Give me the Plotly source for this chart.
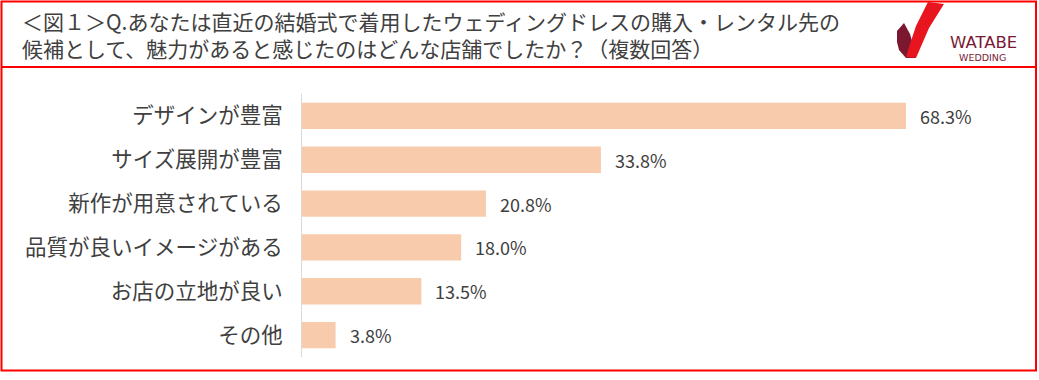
import plotly.graph_objects as go

categories = ["デザインが豊富", "サイズ展開が豊富", "新作が用意されている",
              "品質が良いイメージがある", "お店の立地が良い", "その他"]
values = [68.3, 33.8, 20.8, 18.0, 13.5, 3.8]
value_labels = ["68.3%", "33.8%", "20.8%", "18.0%", "13.5%", "3.8%"]

title_line1 = "＜図１＞Q.あなたは直近の結婚式で着用したウェディングドレスの購入・レンタル先の"
title_line2 = "候補として、魅力があると感じたのはどんな店舗でしたか？（複数回答）"

W, H = 1039, 380
L, R, T, B = 302, 29, 94, 23
PW, PH = W - L - R, H - T - B

def px(x):
    return (x - L) / PW

def py(y):
    return (H - B - y) / PH

def path(points):
    s = "M " + " L ".join(f"{px(x):.5f},{py(y):.5f}" for x, y in points) + " Z"
    return s

FONT = "Noto Sans CJK JP"
TXT = "#404040"

fig = go.Figure()
fig.add_trace(go.Bar(
    x=values, y=categories, orientation="h",
    marker=dict(color="#F8CBAD", line=dict(width=0)),
    hoverinfo="skip",
))

annotations = []
for v, c, t in zip(values, categories, value_labels):
    annotations.append(dict(x=v, y=c, xref="x", yref="y", text=t, showarrow=False,
                            xanchor="left", yanchor="middle", xshift=12,
                            font=dict(family=FONT, size=18, color=TXT)))

annotations.append(dict(x=px(20), y=py(34.5), xref="paper", yref="paper",
                        text=title_line1 + "<br>" + title_line2,
                        showarrow=False, xanchor="left", yanchor="middle", align="left",
                        font=dict(family=FONT, size=21, color=TXT)))
annotations.append(dict(x=px(983), y=py(42), xref="paper", yref="paper", text="WATABE",
                        showarrow=False, xanchor="center", yanchor="middle",
                        font=dict(family="DejaVu Sans", size=16.5, color="#7A1A35")))
annotations.append(dict(x=px(982), y=py(57), xref="paper", yref="paper", text="WEDDING",
                        showarrow=False, xanchor="center", yanchor="middle",
                        font=dict(family="DejaVu Sans", size=9.5, color="#7A1A35")))

shapes = [
    # outer red frame
    dict(type="rect", xref="paper", yref="paper", x0=px(1.5), x1=px(1036), y0=py(1.5), y1=py(370.5),
         line=dict(color="#FF0000", width=2), fillcolor="rgba(0,0,0,0)", layer="above"),
    # separator below title
    dict(type="line", xref="paper", yref="paper", x0=px(1.5), x1=px(1036), y0=py(67), y1=py(67),
         line=dict(color="#FF0000", width=2)),
    # logo: maroon part
    dict(type="path", xref="paper", yref="paper",
         path=path([(897, 31), (904, 23), (910, 34), (914, 48), (916, 58), (906, 58), (899, 50), (897, 42)]),
         fillcolor="#7B1830", line=dict(width=0)),
    # logo: red ribbon
    dict(type="path", xref="paper", yref="paper",
         path=path([(906, 57), (916, 58), (929, 28), (944, 4), (928, 2), (916, 26), (910, 44)]),
         fillcolor="#E8141E", line=dict(width=0)),
]

fig.update_layout(
    width=W, height=H,
    margin=dict(l=L, r=R, t=T, b=B, pad=0),
    paper_bgcolor="white", plot_bgcolor="white",
    showlegend=False,
    bargap=0.4,
    annotations=annotations,
    shapes=shapes,
    xaxis=dict(range=[0, PW / (604 / 68.3)], showgrid=False, zeroline=False,
               showticklabels=False, showline=False, fixedrange=True),
    yaxis=dict(autorange="reversed", showgrid=False, zeroline=False,
               showline=True, linecolor="#D9D9D9", linewidth=1,
               ticks="", ticklabelstandoff=14,
               tickfont=dict(family=FONT, size=21.5, color=TXT), fixedrange=True),
)

fig.write_html("out.html", config={"displayModeBar": False},
               post_script="document.body.style.margin='0';document.body.style.padding='0';")
